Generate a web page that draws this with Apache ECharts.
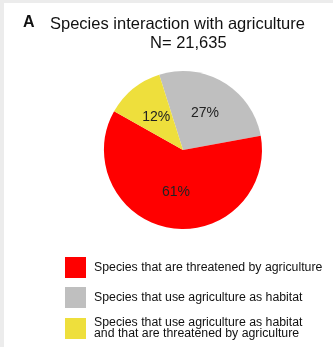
<!DOCTYPE html>
<html lang="en">
<head>
    <meta charset="UTF-8">
    <title>Species interaction with agriculture</title>
    <style>
        html, body { margin: 0; padding: 0; background: #fff; }
    </style>
</head>
<body>
<div id="chart" style="width: 333px;height:347px;"></div>

<script src="https://cdn.jsdelivr.net/npm/echarts@6/dist/echarts.min.js"></script>
<script>
    // pie order (clockwise from the top): gray, red, yellow
    let names = [
            "Species that use agriculture as habitat",
            "Species that are threatened by agriculture",
            "Species that use agriculture as habitat\nand that are threatened by agriculture"
        ],
        values = [27, 61, 12],
        colors = ['#bfbfbf', '#ff0000', '#eedf3c'],
        legendOrder = [names[1], names[0], names[2]],
        legendTops = [252, 282, 312];

    let myChart = echarts.init(document.getElementById("chart")),
        font = "'Liberation Sans', Arial, sans-serif";

    let option = {
        backgroundColor: '#fff',
        animation: false,
        title: [
            {
                text: "Species interaction with agriculture",
                left: 45,
                top: 11,
                textStyle: {fontSize: 16.5, fontWeight: 'normal', color: '#111', fontFamily: font}
            },
            {
                text: "N= 21,635",
                left: 145,
                top: 30,
                textStyle: {fontSize: 16.5, fontWeight: 'normal', color: '#111', fontFamily: font}
            }
        ],
        graphic: [
            {type: 'rect', shape: {x: 0, y: 0, width: 333, height: 3}, style: {fill: '#ececec'}},
            {type: 'rect', shape: {x: 0, y: 0, width: 4, height: 347}, style: {fill: '#ececec'}},
            {
                type: 'text', left: 23, top: 15,
                style: {text: 'A', fontSize: 16, fontWeight: 'bold', fill: '#111', fontFamily: font}
            }
        ],
        legend: legendOrder.map((n, i) => ({
            orient: 'vertical',
            left: 60,
            top: legendTops[i],
            itemWidth: 21,
            itemHeight: 21,
            icon: 'rect',
            data: [n],
            selectedMode: false,
            textStyle: {
                fontSize: 12.3,
                lineHeight: 11,
                color: '#111',
                fontFamily: font,
                padding: [0, 0, 0, 3]
            }
        })),
        series: [
            {
                type: 'pie',
                center: [183, 150],
                radius: 79,
                startAngle: 107.5,
                clockwise: true,
                color: colors,
                label: {
                    position: 'inner',
                    formatter: '{c}%',
                    fontSize: 14,
                    color: '#222',
                    fontFamily: font
                },
                labelLine: {show: false},
                emphasis: {disabled: true},
                data: names.map((n, i) => ({name: n, value: values[i]}))
            }
        ]
    };
    myChart.setOption(option);
</script>
</body>
</html>
